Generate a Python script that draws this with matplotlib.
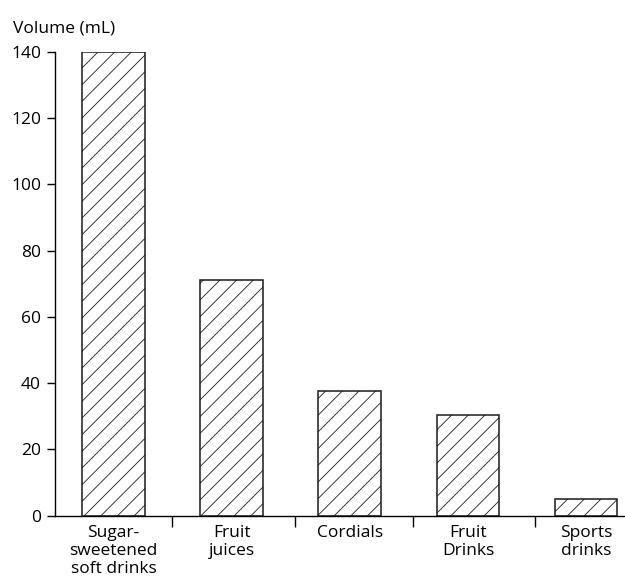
import matplotlib

matplotlib.use("Agg")
import matplotlib.pyplot as plt
from matplotlib.ticker import FixedLocator

categories = ["Sugar-\nsweetened\nsoft drinks", "Fruit\njuices", "Cordials",
              "Fruit\nDrinks", "Sports\ndrinks"]
volumes = [140, 71, 37.5, 30.5, 5]
y_ticks = [0, 20, 40, 60, 80, 100, 120, 140]

plt.rcParams.update({"font.family": ["Open Sans", "DejaVu Sans"], "font.size": 12.5,
                     "hatch.color": "#666666", "hatch.linewidth": 0.6})

fig = plt.figure(figsize=(6.25, 5.78), dpi=100)
ax = fig.add_axes([0.088, 0.108, 0.912, 0.8025])

x = range(len(categories))
ax.bar(x, volumes, width=0.53, color="white", edgecolor="#1a1a1a",
       linewidth=1.1, hatch="//")

ax.set_xlim(-0.495, 4.33)
ax.set_ylim(0, 140)
ax.set_yticks(y_ticks)
ax.set_xticks(list(x))
ax.set_xticklabels(categories, linespacing=1.15)
ax.tick_params(axis="x", which="major", length=0, pad=7)
ax.xaxis.set_minor_locator(FixedLocator([0.495, 1.54, 2.535, 3.565]))
ax.tick_params(axis="x", which="minor", length=8, width=1.0, direction="out")
ax.tick_params(axis="y", length=6, width=1.0, pad=4, direction="out")

for side in ("top", "right"):
    ax.spines[side].set_visible(False)
for side in ("left", "bottom"):
    ax.spines[side].set_linewidth(1.0)

fig.text(0.021, 0.9446, "Volume (mL)", fontsize=12.5, va="baseline", ha="left")

fig.savefig("out.png", dpi=100)
